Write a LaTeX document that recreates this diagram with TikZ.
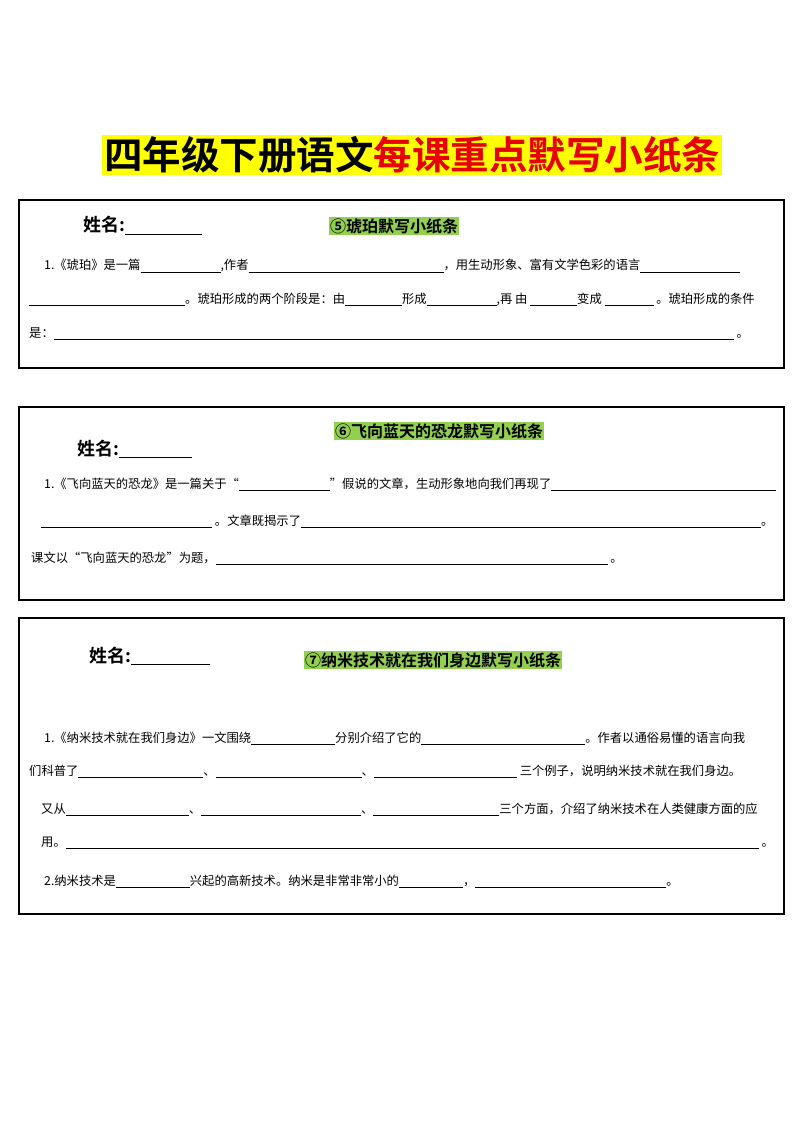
\documentclass[tikz,border=0pt]{standalone}
\usepackage{fontspec}
\setmainfont{Noto Sans CJK SC}
\newfontfamily\cjkbold{Noto Sans CJK SC Bold}
\definecolor{titleyellow}{RGB}{255,255,0}
\definecolor{titlered}{RGB}{230,0,0}
\definecolor{headgreen}{RGB}{146,208,80}
\newcommand{\blank}[1]{\rule[-2.5pt]{#1pt}{0.5pt}}
\begin{document}
\begin{tikzpicture}[x=1pt,y=-1pt,
    strip/.style={draw=black,line width=1.2pt},
    head/.style={fill=headgreen,inner sep=1pt,font=\cjkbold\fontsize{16}{18}\selectfont},
    namefield/.style={anchor=base west,inner sep=0pt,font=\cjkbold\fontsize{18}{20}\selectfont},
    body/.style={anchor=base west,inner sep=0pt,font=\fontsize{12.3}{14}\selectfont}
    ]
\useasboundingbox (0,0) rectangle (800,1131);
% title
\node[fill=titleyellow,inner sep=2pt,font=\cjkbold\fontsize{38.5}{40}\selectfont] (title) at (412,155) {四年级下册语文\textcolor{titlered}{每课重点默写小纸条}};
% strip 5
\draw[strip] (19,200) rectangle (784,368);
\node[namefield] (name5) at (83,232) {姓名:\blank{77}};
\node[head] (head5) at (394,226) {⑤琥珀默写小纸条};
\node[body] (l51) at (44,270) {1.《琥珀》是一篇\blank{80},作者\blank{195}，用生动形象、富有文学色彩的语言\blank{100}};
\node[body] (l52) at (29,303) {\blank{156}。琥珀形成的两个阶段是：由\blank{57}形成\blank{70},再 由 \blank{47}变成 \blank{49} 。琥珀形成的条件};
\node[body] (l53) at (29,337) {是：\blank{680} 。};
% strip 6
\draw[strip] (19,407) rectangle (784,600);
\node[namefield] (name6) at (77,455) {姓名:\blank{73}};
\node[head] (head6) at (439,431) {⑥飞向蓝天的恐龙默写小纸条};
\node[body] (l61) at (44,488) {1.《飞向蓝天的恐龙》是一篇关于“\blank{91}”假说的文章，生动形象地向我们再现了\blank{225}};
\node[body] (l62) at (41,525) {\blank{171} 。文章既揭示了\blank{460}。};
\node[body] (l63) at (31,562) {课文以“飞向蓝天的恐龙”为题，\blank{392} 。};
% strip 7
\draw[strip] (19,618) rectangle (784,914);
\node[namefield] (name7) at (89,662) {姓名:\blank{79}};
\node[head] (head7) at (433,660) {⑦纳米技术就在我们身边默写小纸条};
\node[body] (l71) at (44,742) {1.《纳米技术就在我们身边》一文围绕\blank{84}分别介绍了它的\blank{164}。作者以通俗易懂的语言向我};
\node[body] (l72) at (29,775) {们科普了\blank{125}、\blank{146}、\blank{143} 三个例子，说明纳米技术就在我们身边。};
\node[body] (l73) at (41,813) {又从\blank{123}、\blank{160}、\blank{126}三个方面，介绍了纳米技术在人类健康方面的应};
\node[body] (l74) at (41,846) {用。\blank{693} 。};
\node[body] (l75) at (44,885) {2.纳米技术是\blank{74}兴起的高新技术。纳米是非常非常小的\blank{64}，\blank{191}。};
\end{tikzpicture}
\end{document}
